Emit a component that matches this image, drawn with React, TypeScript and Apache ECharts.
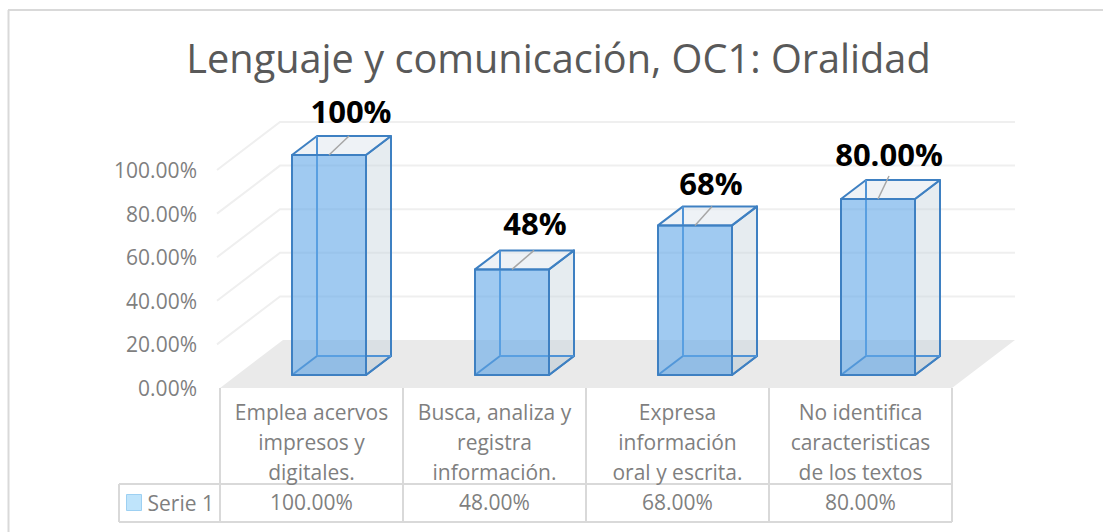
import React, { useEffect, useRef } from "react";
import * as echarts from "echarts";

const title = "Lenguaje y comunicación, OC1: Oralidad";
const categories = [
  "Emplea acervos\nimpresos y\ndigitales.",
  "Busca, analiza y\nregistra\ninformación.",
  "Expresa\ninformación\noral y escrita.",
  "No identifica\ncaracteristicas\nde los textos",
];
const seriesName = "Serie 1";
const values = [1.0, 0.48, 0.68, 0.8];
const tableValues = ["100.00%", "48.00%", "68.00%", "80.00%"];
const dataLabels = ["100%", "48%", "68%", "80.00%"];
const gridTicks = [0, 0.2, 0.4, 0.6, 0.8, 1];

const G = { left: 220, right: 952, bottom: 388, height: 218 };
const WALL = { dx: 63, dy: -48 };
const BAR = { w: 74, fx: 17.5, fy: -13, dx: 25, dy: -19, scale: 220 / 218 };
const LABEL_OFF = [[22, -44], [23, -46], [16, -42], [11, -45]];
const LEADER = [[20, -19], [22, -19], [17, -19], [11, -23]];
const EDGE = "#3E80C2";
const INNER = "#4F93D6";

function floorItem(_: any, api: any) {
  const a = api.coord([0, 0]);
  const w = api.size([1, 0])[0] * categories.length;
  const x0 = a[0] - w / (2 * categories.length);
  return {
    type: "polygon",
    silent: true,
    shape: {
      points: [
        [x0, a[1]],
        [x0 + w, a[1]],
        [x0 + w + WALL.dx, a[1] + WALL.dy],
        [x0 + WALL.dx, a[1] + WALL.dy],
      ],
    },
    style: { fill: "#EAEAEA" },
  };
}

function wallItem(_: any, api: any) {
  const a = api.coord([0, api.value(0)]);
  const w = api.size([1, 0])[0] * categories.length;
  const x0 = a[0] - w / (2 * categories.length);
  const s = { stroke: "#EFEFEF", lineWidth: 2, fill: "none" };
  return {
    type: "polyline",
    silent: true,
    shape: {
      points: [
        [x0 - 3, a[1]],
        [x0 - 3 + WALL.dx, a[1] + WALL.dy],
        [x0 + w + WALL.dx, a[1] + WALL.dy],
      ],
    },
    style: s,
  };
}

function barItem(params: any, api: any) {
  const i = params.dataIndex;
  const base = api.coord([i, 0]);
  const top = api.coord([i, api.value(1)]);
  const l = base[0] + BAR.fx - BAR.w / 2;
  const r = l + BAR.w;
  const b = base[1] + BAR.fy;
  const t = b - (base[1] - top[1]) * BAR.scale;
  const d = BAR.dx;
  const e = BAR.dy;
  const cx = (l + r) / 2;
  const poly = (points: number[][], fill: string, stroke: string) => ({
    type: "polygon",
    shape: { points },
    style: { fill, stroke, lineWidth: 2, lineJoin: "round" },
  });
  const line = (p: number[], q: number[], stroke: string, lineWidth = 2) => ({
    type: "line",
    shape: { x1: p[0], y1: p[1], x2: q[0], y2: q[1] },
    style: { stroke, lineWidth },
  });
  return {
    type: "group",
    children: [
      poly([[r, t], [r + d, t + e], [r + d, b + e], [r, b]], "rgba(200,212,222,0.45)", EDGE),
      poly([[l, t], [r, t], [r + d, t + e], [l + d, t + e]], "rgba(222,230,238,0.5)", EDGE),
      poly([[l, b], [r, b], [r + d, b + e], [l + d, b + e]], "rgba(180,190,200,0.25)", EDGE),
      line([l + d, t + e], [l + d, b + e], INNER),
      line([l + d, b + e], [r + d, b + e], INNER),
      poly([[l, t], [r, t], [r, b], [l, b]], "rgba(96,166,232,0.6)", EDGE),
      line([cx, t], [cx + LEADER[i][0], t + LEADER[i][1]], "#A6A6A6", 1.5),
      {
        type: "text",
        style: {
          x: cx + LABEL_OFF[i][0],
          y: t + LABEL_OFF[i][1],
          text: dataLabels[i],
          fill: "#000000",
          font: "bold 31px 'Open Sans', sans-serif",
          align: "center",
          verticalAlign: "middle",
        },
      },
    ],
  };
}

const hLines = [
  [119, 484, 952, 484],
  [119, 522, 952, 522],
];
const vLines = [
  [119, 484, 119, 522],
  [220, 388, 220, 522],
  [403, 388, 403, 522],
  [586, 388, 586, 522],
  [769, 388, 769, 522],
  [952, 388, 952, 522],
];
const frameLines = [
  [8, 10, 1103, 10],
  [8.5, 10, 8.5, 532],
];

export default function App() {
  const ref = useRef<HTMLDivElement>(null);
  useEffect(() => {
    const chart = echarts.init(ref.current!, undefined, { renderer: "svg" });
    const textFont = "'Open Sans', sans-serif";
    chart.setOption({
      animation: false,
      backgroundColor: "#ffffff",
      title: {
        text: title,
        left: 553.5,
        top: 33,
        textAlign: "center",
        textStyle: { fontFamily: textFont, fontSize: 39.7, fontWeight: "normal", color: "#595959" },
      },
      legend: {
        left: 126,
        top: 492,
        padding: 0,
        itemWidth: 15,
        itemHeight: 16,
        itemGap: 4,
        selectedMode: false,
        data: [
          {
            name: seriesName,
            icon: "rect",
            itemStyle: { color: "#BFE4FB", borderColor: "#9DD0F2", borderWidth: 1 },
          },
        ],
        textStyle: { fontFamily: textFont, fontSize: 21, color: "#7F7F7F", padding: [0, 0, 2, 1] },
      },
      grid: {
        left: G.left,
        width: G.right - G.left,
        top: G.bottom - G.height,
        height: G.height,
      },
      xAxis: [
        {
          type: "category",
          data: categories,
          axisLine: { show: false },
          axisTick: { show: false },
          axisLabel: {
            interval: 0,
            margin: 9,
            lineHeight: 30,
            fontFamily: textFont,
            fontSize: 21,
            color: "#7F7F7F",
            verticalAlign: "top",
          },
        },
        {
          type: "category",
          position: "bottom",
          offset: 103,
          data: tableValues,
          axisLine: { show: false },
          axisTick: { show: false },
          axisLabel: { interval: 0, margin: 0, fontFamily: textFont, fontSize: 21, color: "#7F7F7F", verticalAlign: "top" },
        },
      ],
      yAxis: {
        type: "value",
        min: 0,
        max: 1,
        interval: 0.2,
        axisLine: { show: false },
        axisTick: { show: false },
        splitLine: { show: false },
        axisLabel: {
          margin: 23,
          padding: [2, 0, 0, 0],
          fontFamily: textFont,
          fontSize: 21,
          color: "#7F7F7F",
          formatter: (v: number) => (v * 100).toFixed(2) + "%",
        },
      },
      graphic: [
        ...[...frameLines, ...hLines, ...vLines].map((l) => ({
          type: "line",
          silent: true,
          shape: { x1: l[0], y1: l[1], x2: l[2], y2: l[3] },
          style: { stroke: "#D9D9D9", lineWidth: 2 },
        })),
      ],
      series: [
        {
          type: "custom",
          name: "floor",
          silent: true,
          z: 1,
          data: [[0]],
          renderItem: floorItem,
          encode: { x: -1, y: -1 },
        },
        {
          type: "custom",
          name: "walls",
          silent: true,
          z: 1,
          data: gridTicks.slice(1).map((t) => [t]),
          renderItem: wallItem,
          encode: { x: -1, y: -1 },
        },
        {
          type: "custom",
          name: seriesName,
          silent: true,
          z: 3,
          itemStyle: { color: "#BFE4FB" },
          data: values.map((v, i) => [i, v]),
          renderItem: barItem,
          encode: { x: 0, y: 1 },
        },
      ],
    });
    return () => chart.dispose();
  }, []);
  return <div ref={ref} style={{ position: "fixed", left: 0, top: 0, width: 1103, height: 532 }} />;
}
